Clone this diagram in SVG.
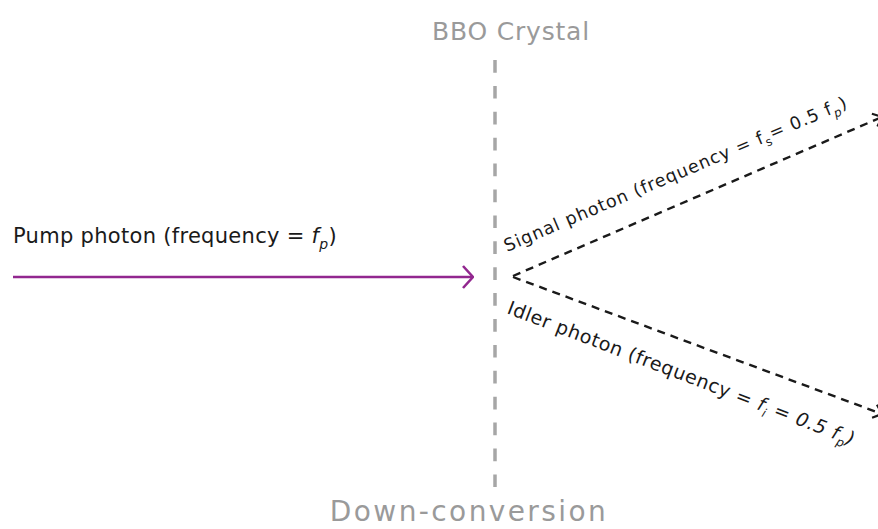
<svg xmlns="http://www.w3.org/2000/svg" width="878" height="529" viewBox="0 0 878 529">
  <style>
    text { font-family: "DejaVu Sans", "Liberation Sans", sans-serif; }
    .title { fill: #9a9a9a; text-anchor: middle; }
    .label { fill: #1a1a1a; }
    .it { font-style: italic; }
    .crystal { stroke: #a6a6a6; stroke-width: 3.5; stroke-dasharray: 12.7 13.2; fill: none; }
    .pump { stroke: #92278f; stroke-width: 2.6; fill: none; }
    .beam { stroke: #1a1a1a; stroke-width: 2.4; stroke-dasharray: 8 6; fill: none; }
  </style>
  <defs>
    <marker id="openPurple" viewBox="0 0 12 24" refX="11" refY="12" markerWidth="12" markerHeight="24" markerUnits="userSpaceOnUse" orient="auto">
      <path d="M1,1 L11,12 L1,23" fill="none" stroke="#92278f" stroke-width="2.6"/>
    </marker>
    <marker id="openBlack" viewBox="0 0 10 16" refX="9" refY="8" markerWidth="10" markerHeight="16" markerUnits="userSpaceOnUse" orient="auto">
      <path d="M1,1 L9,8 L1,15" fill="none" stroke="#1a1a1a" stroke-width="2.2"/>
    </marker>
  </defs>

  <!-- crystal plane -->
  <g id="crystal">
    <line class="crystal" x1="495" y1="60" x2="495" y2="488"/>
    <text class="title" x="511" y="40" font-size="25" letter-spacing="0.8">BBO Crystal</text>
  </g>

  <g id="process-label">
    <text class="title" x="469" y="521" font-size="28" letter-spacing="2.4">Down-conversion</text>
  </g>

  <!-- incoming pump photon -->
  <g id="pump">
    <text class="label" x="13" y="243" font-size="21" letter-spacing="0.3">Pump photon (frequency = <tspan class="it">f</tspan><tspan class="it" font-size="14" dy="6">p</tspan><tspan dy="-6">)</tspan></text>
  </g>

  <!-- signal photon label -->
  <g id="signal">
    <text class="label" font-size="17.5" letter-spacing="1" transform="translate(507,252) rotate(-23)">Signal photon (frequency =  f<tspan font-size="12" dy="5">s</tspan><tspan dy="-5">= 0.5 f</tspan><tspan class="it" font-size="12" dy="5">p</tspan><tspan dy="-5">)</tspan></text>
  </g>

  <!-- idler photon label -->
  <g id="idler">
    <text class="label" font-size="19" letter-spacing="0.6" transform="translate(506,313) rotate(21)">Idler photon (frequency = <tspan class="it">f</tspan><tspan class="it" font-size="12" dy="5">i</tspan><tspan class="it" dy="-5"> = 0.5 f</tspan><tspan class="it" font-size="12" dy="5">p</tspan><tspan class="it" dy="-5">)</tspan></text>
  </g>

  <!-- connectors -->
  <g id="connectors">
    <line class="pump" x1="13" y1="277" x2="473" y2="277" marker-end="url(#openPurple)"/>
    <line class="beam" x1="513" y1="276" x2="882" y2="117" marker-end="url(#openBlack)"/>
    <line class="beam" x1="513" y1="277" x2="882" y2="414" marker-end="url(#openBlack)"/>
  </g>
</svg>
